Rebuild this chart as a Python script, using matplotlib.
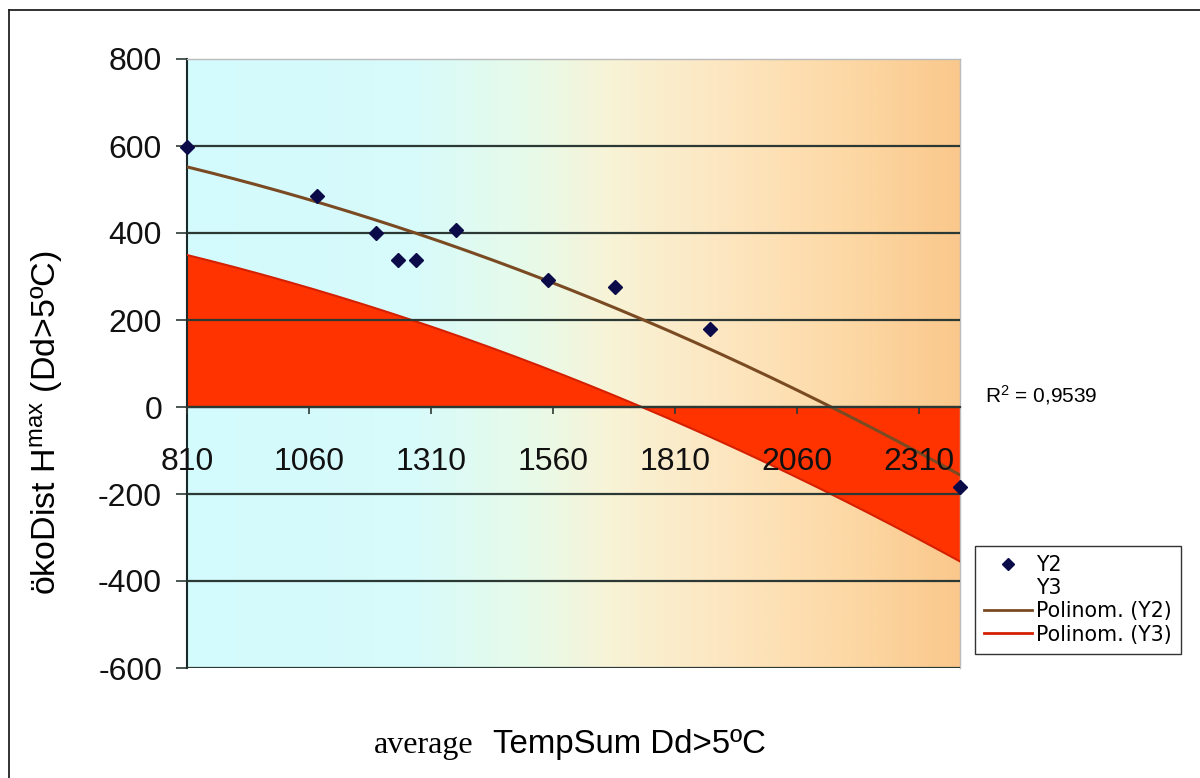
import numpy as np
import matplotlib
matplotlib.use("Agg")
import matplotlib.pyplot as plt
from matplotlib.colors import LinearSegmentedColormap
from matplotlib.lines import Line2D

plt.rcParams['font.family'] = ['Liberation Sans', 'DejaVu Sans']
plt.rcParams['mathtext.default'] = 'regular'

# ---- data ----
y2_x = [810, 1077, 1197, 1243, 1280, 1361, 1550, 1687, 1882, 2394]
y2_y = [598, 484, 400, 339, 339, 406, 291, 275, 180, -185]
# Y3 series (drawn without markers, only its polynomial trendline is visible)
y3_x = [810, 1274, 1410, 1736, 1820, 2134, 2394]
y3_y = [349, 200, 146, 0, -38, -200, -356]

x_ticks = [810, 1060, 1310, 1560, 1810, 2060, 2310]
y_ticks = [-600, -400, -200, 0, 200, 400, 600, 800]
r2_text = "R$^{2}$ = 0,9539"
legend_labels = ["Y2", "Y3", "Polinom. (Y2)", "Polinom. (Y3)"]

fig = plt.figure(figsize=(12, 7.78), dpi=100)
ax = fig.add_axes([187/1200, 1-668/778, (960-187)/1200, (668-59)/778])
ax.set_facecolor('none')

# gradient background
cmap = LinearSegmentedColormap.from_list('bg', [
    (0.0, '#D3FAFD'), (0.30, '#D8FBFA'), (0.45, '#E8FAE8'), (0.55, '#F8F3D6'),
    (0.70, '#FDE6C0'), (0.85, '#FDD9A6'), (1.0, '#FAC88C')])
grad = np.linspace(0, 1, 512).reshape(1, -1)
ax.imshow(grad, extent=[0, 1, 0, 1], transform=ax.transAxes, aspect='auto',
          cmap=cmap, zorder=0)

ax.set_xlim(810, 2394)
ax.set_ylim(-600, 800)

# Y3 polynomial trendline with red fill to zero
c3 = np.polyfit(y3_x, y3_y, 2)
xx = np.linspace(810, 2394, 400)
yy3 = np.polyval(c3, xx)
ax.fill_between(xx, 0, yy3, color='#FF3300', lw=0, zorder=2)
ax.plot(xx, yy3, color='#D42000', lw=1.5, zorder=3)

# gridlines (drawn over the fill)
for v in y_ticks:
    if v == 800:
        continue
    ax.axhline(v, color='#2C3833', lw=1.6, zorder=4)

# Y2 polynomial trendline
c2 = np.polyfit(y2_x, y2_y, 2)
yy2 = np.polyval(c2, xx)
ax.plot(xx, yy2, color='#7A4A22', lw=2.2, zorder=5)

# Y2 points
ax.plot(y2_x, y2_y, linestyle='none', marker='D', markersize=7,
        color='#0B0B4A', zorder=7, clip_on=False)

# axes styling
ax.spines['bottom'].set_position(('data', 0))
ax.spines['bottom'].set_color('#2C3833')
ax.spines['bottom'].set_linewidth(1.6)
ax.spines['bottom'].set_zorder(6)
ax.spines['left'].set_color('#1A2A2A')
ax.spines['left'].set_linewidth(1.5)
for s in ('top', 'right'):
    ax.spines[s].set_color('#BBBBBB')
    ax.spines[s].set_linewidth(1.0)

ax.set_xticks(x_ticks)
ax.set_xticklabels([str(t) for t in x_ticks])
ax.set_yticks(y_ticks)
ax.set_yticklabels([str(t) for t in y_ticks])
ax.tick_params(axis='x', direction='out', length=5, width=1.2, color='#2C3833',
               pad=24, labelsize=23, labelcolor='#111111')
ax.tick_params(axis='y', direction='out', length=8, width=1.2, color='#2C3833',
               pad=10, labelsize=23, labelcolor='#111111')
ax.xaxis.set_ticks_position('bottom')
ax.xaxis.set_zorder(6.5)

# axis labels
fig.text(47/1200, 1-423/778, "ökoDist H$^{max}$ (Dd>5ºC)", rotation=90,
         ha='center', va='center', fontsize=24.5)
fig.text(424/1200, 1-745/778, "average", family='Liberation Serif',
         ha='center', va='center', fontsize=23)
fig.text(493/1200, 1-745/778, "TempSum Dd>5ºC", ha='left', va='center',
         fontsize=23.8)

# R^2 text
fig.text(985/1200, 1-395/778, r2_text, ha='left', va='center', fontsize=15)

# legend
handles = [
    Line2D([], [], linestyle='none', marker='D', markersize=6, color='#0B0B4A'),
    Line2D([], [], linestyle='none'),
    Line2D([], [], color='#7A4A22', lw=2),
    Line2D([], [], color='#D42000', lw=2),
]
leg = fig.legend(handles, legend_labels, loc='upper left',
                 bbox_to_anchor=(975/1200, 1-546/778), bbox_transform=fig.transFigure,
                 frameon=True, fancybox=False, edgecolor='black',
                 prop={'family': 'DejaVu Sans', 'size': 14.8},
                 handlelength=2.3, handletextpad=0.2, labelspacing=0.15,
                 borderpad=0.45, borderaxespad=0)
leg.get_frame().set_linewidth(1.0)
leg.get_frame().set_facecolor('white')

# outer border (left and top)
fig.add_artist(Line2D([9/1200, 9/1200], [0, 1-10/778], transform=fig.transFigure,
                      color='#222222', lw=1.3))
fig.add_artist(Line2D([9/1200, 1], [1-10/778, 1-10/778], transform=fig.transFigure,
                      color='#222222', lw=1.3))

fig.savefig('out.png', dpi=100)
